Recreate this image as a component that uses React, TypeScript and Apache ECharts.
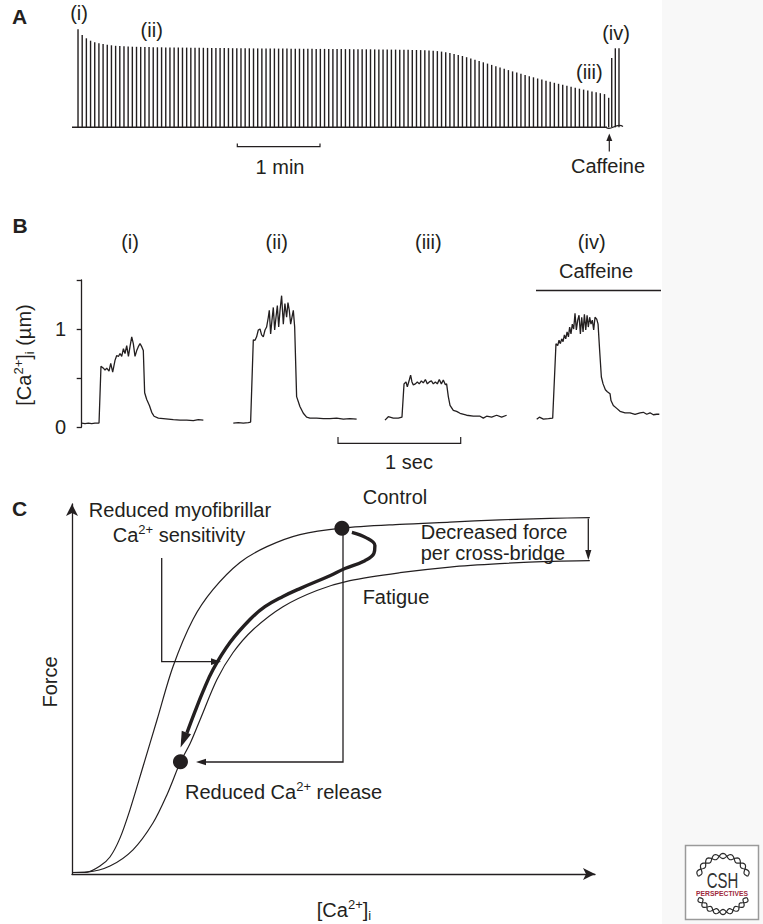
import React, { useEffect, useRef } from "react";
import * as echarts from "echarts";

const FONT = '"Liberation Sans", Arial, Helvetica, sans-serif';
const INK = "#231f20";

// ---------- Panel A: tetanic force (relative units), one bar per tetanus ----------
const tetanusForce: number[] = [
  98, 92.3, 89, 86.6, 85, 84, 83.2, 82.5, 82, 81.5,
  81.2, 81, 80.8, 80.6, 80.5, 80.4, 80.3, 80.2, 80.1, 80,
  80, 79.9, 79.9, 79.8, 79.8, 79.7, 79.7, 79.6, 79.6, 79.5,
  79.5, 79.4, 79.4, 79.3, 79.3, 79.2, 79.2, 79.1, 79.1, 79,
  79, 79, 78.9, 78.9, 78.9, 78.8, 78.8, 78.8, 78.7, 78.7,
  78.7, 78.6, 78.6, 78.6, 78.5, 78.5, 78.5, 78.4, 78.4, 78.4,
  78.3, 78.3, 78.3, 78.2, 78.2, 78.2, 78.1, 78.1, 78, 78,
  78, 77.9, 77.9, 77.8, 77.8, 77.7, 77.7, 77.6, 77.6, 77.5,
  77.4, 77.3, 77.2, 77.1, 76.9, 76.6, 76.2, 75.7, 75.1, 74.3,
  73.4, 72.4, 71.3, 70.1, 68.9, 67.6, 66.3, 65, 63.7, 62.4,
  61.1, 59.8, 58.5, 57.2, 55.9, 54.7, 53.5, 52.3, 51.1, 50,
  48.8, 47.7, 46.6, 45.5, 44.5, 43.5, 42.5, 41.5, 40.5, 39.5,
  38.6, 37.7, 36.8, 35.9, 35, 34.1, 33.2, 29.5,
];
const caffeineTetanusNo: number[] = [127.73, 128.59, 129.47];
const caffeineForce: number[] = [69.3, 79, 79];

// ---------- Panel B: [Ca2+]i traces (time in s from trace start, µM) ----------
const traceI_t = [0, 0.027, 0.055, 0.082, 0.109, 0.142, 0.158, 0.178, 0.191, 0.205, 0.224, 0.238, 0.254, 0.273, 0.287, 0.301, 0.314, 0.328, 0.342, 0.355, 0.369, 0.383, 0.396, 0.41, 0.423, 0.437, 0.451, 0.464, 0.478, 0.492, 0.505, 0.516, 0.533, 0.555, 0.574, 0.593, 0.628, 0.669, 0.71, 0.751, 0.806, 0.861, 0.915, 0.956, 0.997];
const traceI_ca = [0.04, 0.035, 0.04, 0.035, 0.04, 0.04, 0.62, 0.6, 0.58, 0.6, 0.57, 0.65, 0.56, 0.68, 0.73, 0.72, 0.75, 0.72, 0.8, 0.75, 0.83, 0.72, 0.82, 0.92, 0.85, 0.72, 0.78, 0.82, 0.85, 0.82, 0.78, 0.35, 0.28, 0.22, 0.15, 0.11, 0.09, 0.085, 0.08, 0.075, 0.07, 0.07, 0.065, 0.075, 0.07];

const traceII_t = [0, 0.041, 0.082, 0.123, 0.142, 0.164, 0.178, 0.191, 0.205, 0.219, 0.232, 0.246, 0.26, 0.273, 0.287, 0.295, 0.306, 0.317, 0.328, 0.339, 0.35, 0.361, 0.372, 0.383, 0.396, 0.41, 0.423, 0.437, 0.448, 0.459, 0.47, 0.481, 0.492, 0.503, 0.519, 0.546, 0.574, 0.601, 0.628, 0.683, 0.738, 0.792, 0.847, 0.902, 0.956, 1.011];
const traceII_ca = [0.04, 0.045, 0.04, 0.045, 0.05, 0.89, 0.885, 0.92, 0.99, 1.0, 0.94, 0.92, 0.99, 1.02, 1.12, 1.19, 0.95, 1.09, 1.22, 0.99, 1.12, 1.24, 1.02, 1.19, 1.34, 1.05, 1.26, 1.12, 1.27, 1.19, 1.05, 1.12, 1.19, 1.02, 0.31, 0.21, 0.14, 0.1, 0.09, 0.09, 0.085, 0.085, 0.09, 0.08, 0.085, 0.08];

const traceIII_t = [0, 0.027, 0.068, 0.109, 0.139, 0.156, 0.172, 0.183, 0.199, 0.21, 0.221, 0.232, 0.249, 0.265, 0.281, 0.298, 0.314, 0.331, 0.347, 0.363, 0.38, 0.396, 0.413, 0.429, 0.445, 0.462, 0.478, 0.495, 0.505, 0.519, 0.533, 0.56, 0.587, 0.615, 0.669, 0.724, 0.779, 0.806, 0.833, 0.874, 0.915, 0.956, 0.997];
const traceIII_ca = [0.07, 0.105, 0.09, 0.09, 0.1, 0.44, 0.46, 0.41, 0.48, 0.53, 0.46, 0.43, 0.44, 0.46, 0.44, 0.47, 0.45, 0.485, 0.44, 0.46, 0.47, 0.44, 0.46, 0.44, 0.485, 0.44, 0.48, 0.43, 0.44, 0.31, 0.22, 0.17, 0.16, 0.14, 0.12, 0.11, 0.11, 0.09, 0.11, 0.1, 0.12, 0.1, 0.12];

const traceIV_t = [0, 0.022, 0.055, 0.096, 0.131, 0.158, 0.172, 0.183, 0.194, 0.205, 0.216, 0.227, 0.238, 0.249, 0.26, 0.27, 0.281, 0.292, 0.303, 0.314, 0.325, 0.336, 0.347, 0.358, 0.369, 0.38, 0.391, 0.402, 0.413, 0.423, 0.434, 0.445, 0.456, 0.467, 0.478, 0.492, 0.503, 0.516, 0.53, 0.544, 0.563, 0.579, 0.601, 0.609, 0.628, 0.656, 0.683, 0.724, 0.765, 0.806, 0.847, 0.874, 0.902, 0.929, 0.956, 0.984, 1.005];
const traceIV_ca = [0.08, 0.1, 0.08, 0.085, 0.09, 0.85, 0.83, 0.885, 0.85, 0.9, 0.87, 0.94, 0.9, 0.97, 0.92, 1.02, 0.95, 1.05, 1.0, 1.16, 0.99, 1.09, 1.14, 0.95, 1.12, 0.97, 1.15, 0.99, 1.14, 1.02, 1.12, 1.05, 1.09, 0.99, 1.12, 1.1, 1.05, 0.78, 0.51, 0.44, 0.38, 0.36, 0.34, 0.27, 0.22, 0.19, 0.16, 0.145, 0.145, 0.13, 0.145, 0.15, 0.13, 0.145, 0.125, 0.13, 0.13];

const traceLabels = ["(i)", "(ii)", "(iii)", "(iv)"];
const caTickLabels: Record<number, string> = { 0: "0", 1: "1" };

// ---------- Panel C: force–[Ca2+]i relations (arbitrary units) ----------
const controlCa = [0, 0.284, 0.529, 0.718, 0.907, 1.096, 1.342, 1.607, 1.909, 2.287, 2.665, 3.176, 3.686, 4.31, 5.104, 6.2, 7.146, 8.091, 9.036, 9.792];
const controlForce = [0.004, 0.005, 0.021, 0.045, 0.095, 0.17, 0.284, 0.408, 0.549, 0.674, 0.753, 0.825, 0.867, 0.899, 0.916, 0.926, 0.932, 0.938, 0.942, 0.944];
const fatigueCa = [0, 0.284, 0.718, 1.153, 1.531, 1.796, 2.051, 2.231, 2.42, 2.741, 3.043, 3.422, 3.989, 4.631, 5.255, 6.2, 7.146, 8.091, 9.036, 9.792];
const fatigueForce = [0.004, 0.005, 0.021, 0.064, 0.135, 0.21, 0.297, 0.345, 0.408, 0.515, 0.586, 0.647, 0.708, 0.751, 0.777, 0.798, 0.813, 0.822, 0.828, 0.83];
const pathCa = [5.293, 5.558, 5.728, 5.709, 5.539, 5.161, 4.877, 4.31, 3.989, 3.648, 3.365, 2.987, 2.665, 2.476, 2.325, 2.174];
const pathForce = [0.905, 0.891, 0.87, 0.849, 0.83, 0.809, 0.79, 0.756, 0.735, 0.708, 0.674, 0.613, 0.541, 0.483, 0.43, 0.374];
const controlPoint = [5.104, 0.916];
const fatiguePoint = [2.051, 0.297];
const pathArrowTip = [2.108, 0.355];

const zip = (a: number[], b: number[]) => a.map((v, i) => [v, b[i]]);

const RICH = {
  n: { fontSize: 20, fontFamily: FONT, fill: INK, lineHeight: 24 },
  s: { fontSize: 13, fontFamily: FONT, fill: INK, lineHeight: 12, verticalAlign: "top" },
  d: { fontSize: 13, fontFamily: FONT, fill: INK, lineHeight: 12, verticalAlign: "bottom" },
};

function txt(x: number, y: number, text: string, o: any = {}) {
  return {
    type: "text",
    x,
    y,
    rotation: o.rotation || 0,
    scaleX: o.scaleX || 1,
    silent: true,
    style: {
      text,
      fill: o.fill || INK,
      fontSize: o.fontSize || 20,
      fontWeight: o.fontWeight || "normal",
      fontFamily: FONT,
      align: o.align || "center",
      verticalAlign: "middle",
      rich: RICH,
    },
  };
}

function poly(points: number[][], w = 1.3) {
  return { type: "polyline", silent: true, shape: { points }, style: { stroke: INK, lineWidth: w, fill: null } };
}
function tri(points: number[][]) {
  return { type: "polygon", silent: true, shape: { points }, style: { fill: INK } };
}

// decorative double-helix strand for the publisher logo
function helix(cx: number, cy: number, rx: number, ry: number, a0: number, a1: number, phase: number) {
  const pts: number[][] = [];
  for (let k = 0; k <= 80; k++) {
    const th = a0 + ((a1 - a0) * k) / 80;
    const off = 2.6 * Math.sin((9 * Math.PI * k) / 80 + phase);
    pts.push([cx + (rx + off) * Math.cos(th), cy + (ry + off) * Math.sin(th)]);
  }
  return pts;
}
function strand(points: number[][]) {
  return { type: "polyline", silent: true, shape: { points }, style: { stroke: "#2b2b2b", lineWidth: 1.2, fill: null } };
}

export default function App() {
  const ref = useRef<HTMLDivElement>(null);
  useEffect(() => {
    if (!ref.current) return;
    const chart = echarts.init(ref.current, null, { renderer: "svg" });

    const traces = [
      zip(traceI_t, traceI_ca),
      zip(traceII_t, traceII_ca),
      zip(traceIII_t, traceIII_ca),
      zip(traceIV_t, traceIV_ca),
    ];
    const traceLefts = [81.7, 233.3, 385, 536.7];

    const barData = tetanusForce
      .map((h, i) => [i, h])
      .concat(caffeineTetanusNo.map((t, i) => [t, caffeineForce[i]]));

    const hiddenAxis = { show: false };

    const grids: any[] = [
      { left: 72, top: 27.3, width: 549, height: 100 },
      ...traceLefts.map((l) => ({ left: l, top: 280, width: 128.1, height: 147 })),
      { left: 72, top: 504, width: 523, height: 370 },
    ];

    const arrowAxisLine = {
      show: true,
      symbol: ["none", "arrow"],
      symbolSize: [9, 12],
      lineStyle: { color: INK, width: 1.3 },
    };

    const xAxis: any[] = [
      { gridIndex: 0, type: "value", min: -1.44, max: 129.95, ...hiddenAxis },
      ...traceLefts.map((_, k) => ({ gridIndex: k + 1, type: "value", min: 0, max: 1.05, ...hiddenAxis })),
      {
        gridIndex: 5, type: "value", min: 0, max: 9.89,
        axisLine: arrowAxisLine, axisTick: { show: false }, axisLabel: { show: false }, splitLine: { show: false },
      },
    ];
    const yAxis: any[] = [
      { gridIndex: 0, type: "value", min: 0, max: 100, ...hiddenAxis },
      {
        gridIndex: 1, type: "value", min: 0, max: 1.5, interval: 0.5, offset: 9.7,
        axisLine: { show: true, lineStyle: { color: INK, width: 1.3 } },
        axisTick: { show: true, inside: false, length: 5, lineStyle: { color: INK, width: 1.3 } },
        axisLabel: {
          show: true, margin: 6, color: INK, fontSize: 20, fontFamily: FONT,
          formatter: (v: number) => caTickLabels[v] ?? "",
        },
        splitLine: { show: false },
      },
      ...[2, 3, 4].map((g) => ({ gridIndex: g, type: "value", min: 0, max: 1.5, ...hiddenAxis })),
      {
        gridIndex: 5, type: "value", min: 0, max: 0.98,
        axisLine: arrowAxisLine, axisTick: { show: false }, axisLabel: { show: false }, splitLine: { show: false },
      },
    ];

    const series: any[] = [
      {
        type: "bar", xAxisIndex: 0, yAxisIndex: 0, data: barData, barWidth: 1.4,
        itemStyle: { color: INK }, silent: true,
      },
      ...traces.map((d, k) => ({
        type: "line", xAxisIndex: k + 1, yAxisIndex: k + 1, data: d, showSymbol: false, symbol: "none",
        lineStyle: { color: INK, width: 1.3 }, silent: true,
      })),
      {
        type: "line", xAxisIndex: 5, yAxisIndex: 5, data: zip(controlCa, controlForce), smooth: 0.3,
        showSymbol: false, symbol: "none", lineStyle: { color: INK, width: 1.2 }, silent: true,
      },
      {
        type: "line", xAxisIndex: 5, yAxisIndex: 5, data: zip(fatigueCa, fatigueForce), smooth: 0.3,
        showSymbol: false, symbol: "none", lineStyle: { color: INK, width: 1.2 }, silent: true,
      },
      {
        type: "line", xAxisIndex: 5, yAxisIndex: 5, data: zip(pathCa, pathForce), smooth: 0.4,
        showSymbol: false, symbol: "none", lineStyle: { color: INK, width: 3.4 }, silent: true,
      },
      {
        type: "scatter", xAxisIndex: 5, yAxisIndex: 5, data: [controlPoint, fatiguePoint], symbolSize: 15,
        itemStyle: { color: INK, opacity: 1 }, silent: true, z: 5,
      },
      {
        type: "scatter", xAxisIndex: 5, yAxisIndex: 5, data: [pathArrowTip], symbol: "triangle",
        symbolSize: [10, 16], symbolRotate: 158.6, itemStyle: { color: INK, opacity: 1 }, silent: true, z: 5,
      },
    ];

    const graphic: any[] = [
      { type: "rect", z: -10, silent: true, shape: { x: 662, y: 0, width: 101, height: 924 }, style: { fill: "#f8f8f8" } },
      // Panel A
      txt(19.5, 16.7, "A", { fontWeight: "bold", fontSize: 21 }),
      txt(79, 13.3, "(i)"),
      txt(151.7, 30, "(ii)"),
      txt(589.3, 71.7, "(iii)"),
      txt(616, 33.3, "(iv)"),
      { type: "line", silent: true, shape: { x1: 72, y1: 127.3, x2: 607, y2: 127.3 }, style: { stroke: INK, lineWidth: 1.4 } },
      {
        type: "bezierCurve", silent: true,
        shape: { x1: 606, y1: 127.3, cpx1: 611, cpy1: 132, cpx2: 616, cpy2: 122, x2: 623, y2: 126.5 },
        style: { stroke: INK, lineWidth: 1.2, fill: null },
      },
      poly([[609.3, 151.5], [609.3, 139]], 1.2),
      tri([[609.3, 133.5], [606.3, 141], [612.3, 141]]),
      txt(608, 165.7, "Caffeine"),
      poly([[237.3, 143.5], [237.3, 146.7], [320, 146.7], [320, 143.5]], 1.2),
      txt(280, 166.7, "1 min"),
      // Panel B
      txt(20, 225.8, "B", { fontWeight: "bold", fontSize: 21 }),
      ...traceLabels.map((l, i) => txt([130, 276.7, 428.3, 591.7][i], 241.7, l)),
      txt(596, 271, "Caffeine"),
      poly([[536, 290.5], [661, 290.5]], 1.3),
      poly([[338, 437], [338, 443.3], [460.7, 443.3], [460.7, 437]], 1.2),
      txt(409, 461.7, "1 sec"),
      txt(24, 355, "{n|[Ca}{s|2+}{n|]}{d|i}{n| (µm)}", { rotation: Math.PI / 2 }),
      // Panel C
      txt(19.5, 508, "C", { fontWeight: "bold", fontSize: 21 }),
      txt(180, 510, "Reduced myofibrillar"),
      txt(179, 535, "{n|Ca}{s|2+}{n| sensitivity}"),
      poly([[161.7, 558], [161.7, 661.7], [213, 661.7]]),
      tri([[221, 661.7], [211, 658.3], [211, 665.1]]),
      txt(395, 496.7, "Control"),
      txt(396, 596.7, "Fatigue"),
      txt(420.7, 531.7, "Decreased force", { align: "left" }),
      txt(420.7, 553.3, "per cross-bridge", { align: "left" }),
      poly([[588.3, 518.5], [588.3, 551]]),
      tri([[588.3, 560], [585.2, 550], [591.4, 550]]),
      poly([[343, 535], [343, 762], [205, 762]]),
      tri([[196, 762], [206, 758.7], [206, 765.3]]),
      txt(185, 791.7, "{n|Reduced Ca}{s|2+}{n| release}", { align: "left" }),
      txt(50, 682, "Force", { rotation: Math.PI / 2 }),
      txt(344, 910, "{n|[Ca}{s|2+}{n|]}{d|i}"),
      // CSH Perspectives logo
      { type: "rect", silent: true, shape: { x: 685.5, y: 845.5, width: 73, height: 74 }, style: { fill: "#fff", stroke: "#9a9a9a", lineWidth: 1.5 } },
      strand(helix(723, 881, 25, 25, Math.PI * 1.06, Math.PI * 1.94, 0)),
      strand(helix(723, 881, 25, 25, Math.PI * 1.06, Math.PI * 1.94, Math.PI)),
      strand(helix(723, 891, 25, 21, Math.PI * 0.1, Math.PI * 0.9, 0)),
      strand(helix(723, 891, 25, 21, Math.PI * 0.1, Math.PI * 0.9, Math.PI)),
      txt(722.5, 880.5, "CSH", { fontSize: 22, scaleX: 0.68, fill: "#333" }),
      txt(722, 893, "PERSPECTIVES", { fontSize: 8, fontWeight: "bold", fill: "#9e2a3c", scaleX: 0.85 }),
    ];

    chart.setOption({
      animation: false,
      backgroundColor: "#ffffff",
      grid: grids,
      xAxis,
      yAxis,
      series,
      graphic,
    });
    return () => chart.dispose();
  }, []);

  return (
    <div
      ref={ref}
      style={{ position: "fixed", left: 0, top: 0, width: 763, height: 924 }}
    />
  );
}
